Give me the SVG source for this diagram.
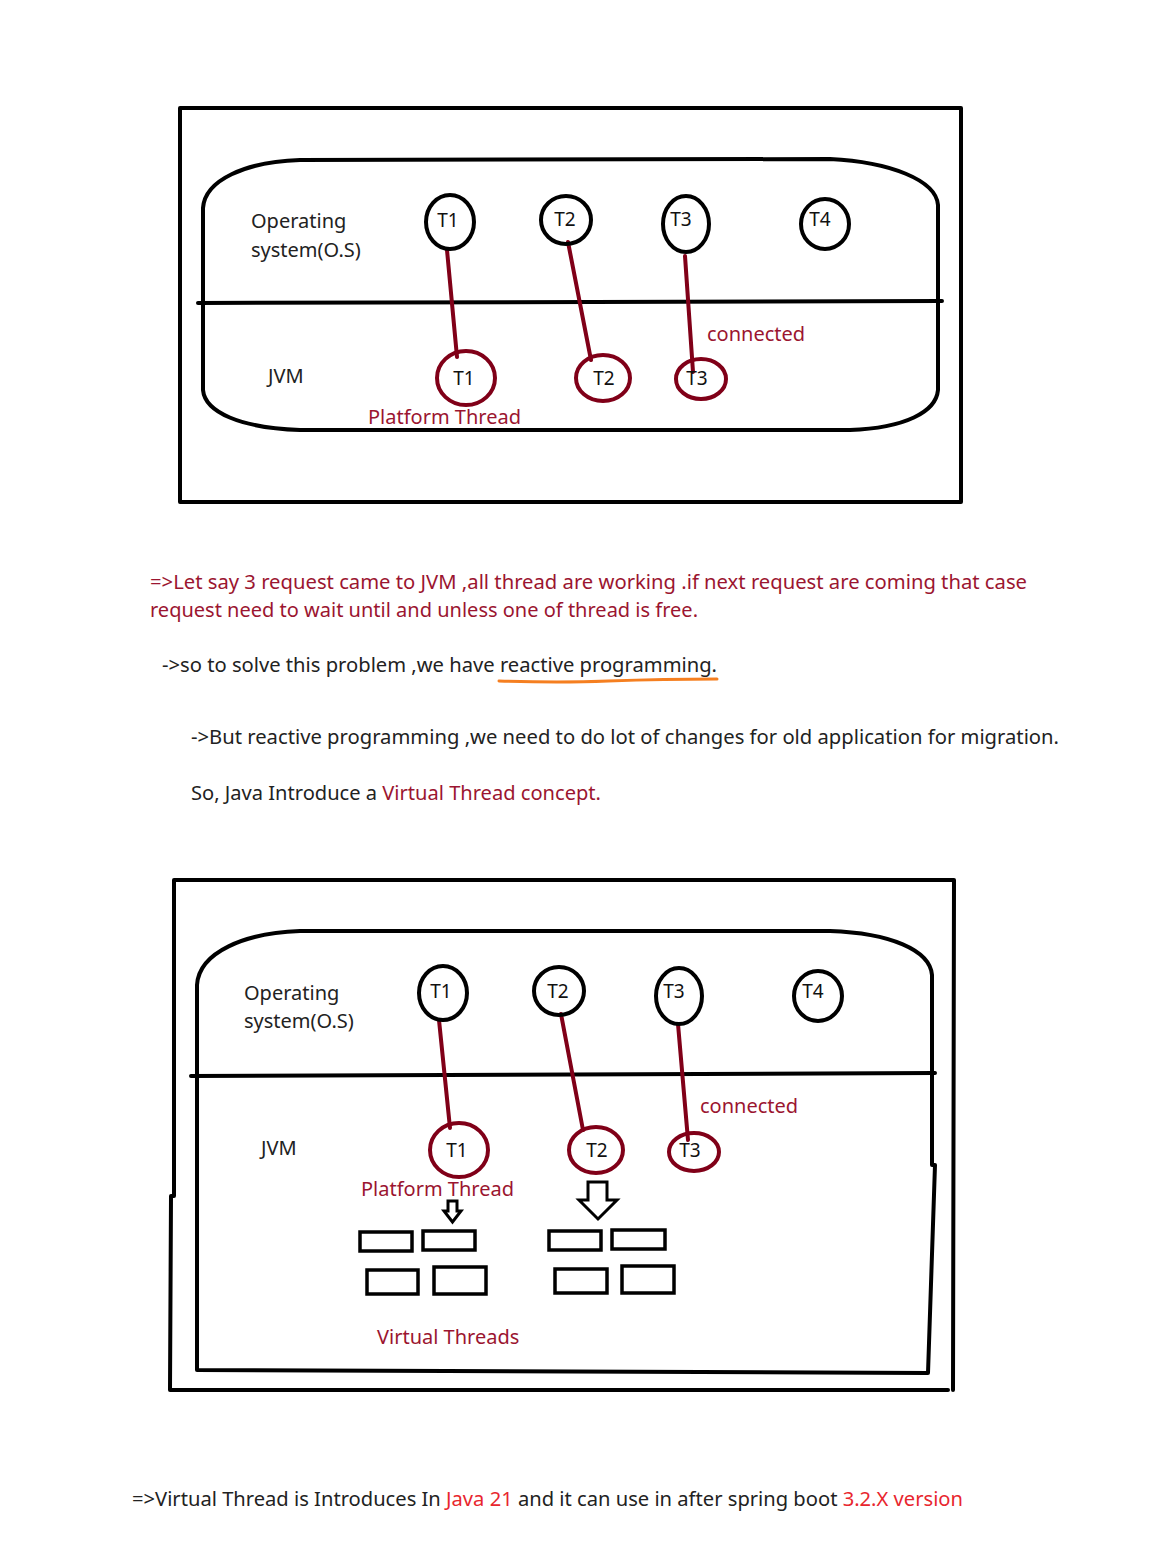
<svg xmlns="http://www.w3.org/2000/svg" width="1152" height="1563" viewBox="0 0 1152 1563">
<style>
.frame{fill:none;stroke:#000;stroke-width:4;stroke-linecap:round;stroke-linejoin:round}
.os{fill:none;stroke:#000;stroke-width:4}
.jvm{fill:none;stroke:#800018;stroke-width:4}
.link{stroke:#800018;stroke-width:4;stroke-linecap:round}
.box{fill:none;stroke:#000;stroke-width:3.5}
.arrow{fill:none;stroke:#000;stroke-width:3;stroke-linejoin:miter}
text{font-family:"Noto Sans","Open Sans","Liberation Sans",sans-serif;font-size:20px;fill:#222}
.t{font-size:19px;fill:#111}
.red{fill:#9b1530}
.bred{fill:#e8262e}
</style>
<rect x="0" y="0" width="1152" height="1563" fill="#fff"/>

<!-- Top diagram -->
<g id="top-diagram">
  <rect class="frame" x="180" y="108" width="781" height="394"/>
  <path class="frame" d="M203,390 L203,208 C205,180 245,162 300,160 L830,159 C890,162 936,180 938,205 L938,390 C936,412 905,428 850,430 L300,430 C240,428 205,412 203,390 Z"/>
  <line class="frame" x1="198" y1="303" x2="942" y2="301"/>
</g>
<g id="top-labels">
  <text x="251" y="228">Operating</text>
  <text x="251" y="257">system(O.S)</text>
  <text x="268" y="383">JVM</text>
  <text class="red" x="368" y="424">Platform Thread</text>
  <text class="red" x="707" y="341">connected</text>
</g>
<g id="top-connectors">
  <line class="link" x1="447" y1="250" x2="457" y2="357"/>
  <line class="link" x1="568" y1="242" x2="591" y2="360"/>
  <line class="link" x1="685" y1="256" x2="693" y2="372"/>
</g>
<g id="top-os-t1"><ellipse class="os" cx="450" cy="222" rx="24" ry="27"/><text class="t" x="448" y="227" text-anchor="middle">T1</text></g>
<g id="top-os-t2"><ellipse class="os" cx="566" cy="220" rx="25" ry="24"/><text class="t" x="565" y="226" text-anchor="middle">T2</text></g>
<g id="top-os-t3"><ellipse class="os" cx="686" cy="224" rx="23" ry="28"/><text class="t" x="681" y="226" text-anchor="middle">T3</text></g>
<g id="top-os-t4"><ellipse class="os" cx="825" cy="224" rx="24" ry="25"/><text class="t" x="820" y="226" text-anchor="middle">T4</text></g>
<g id="top-jvm-t1"><ellipse class="jvm" cx="466" cy="378" rx="29" ry="27"/><text class="t" x="464" y="385" text-anchor="middle">T1</text></g>
<g id="top-jvm-t2"><ellipse class="jvm" cx="603" cy="378" rx="27" ry="23"/><text class="t" x="604" y="385" text-anchor="middle">T2</text></g>
<g id="top-jvm-t3"><ellipse class="jvm" cx="701" cy="379" rx="25" ry="20"/><text class="t" x="697" y="385" text-anchor="middle">T3</text></g>

<!-- Middle text -->
<g id="notes">
  <text class="red" x="150" y="589" textLength="877" lengthAdjust="spacingAndGlyphs">=&gt;Let say 3 request came to JVM ,all thread are working .if next request are coming that case</text>
  <text class="red" x="150" y="617" textLength="548" lengthAdjust="spacingAndGlyphs">request need to wait until and unless one of thread is free.</text>
  <text x="162" y="672" textLength="555" lengthAdjust="spacingAndGlyphs">-&gt;so to solve this problem ,we have reactive programming.</text>
  <path d="M499,681 Q560,683 608,681 Q665,679 717,679" fill="none" stroke="#f57f20" stroke-width="3" stroke-linecap="round"/>
  <text x="191" y="744" textLength="868" lengthAdjust="spacingAndGlyphs">-&gt;But reactive programming ,we need to do lot of changes for old application for migration.</text>
  <text x="191" y="800" textLength="410" lengthAdjust="spacingAndGlyphs">So, Java Introduce a <tspan class="red">Virtual Thread concept.</tspan></text>
</g>

<!-- Bottom diagram -->
<g id="bottom-diagram">
  <path class="frame" d="M174,880 L954,880 L953,1390 M174,880 L174,1196 L171,1196 L170,1390 L948,1390"/>
  <path class="frame" d="M197,1370 L197,985 C199,952 245,933 300,931 L830,931 C890,933 930,950 932,975 L932,1165 L935,1165 L928,1373 L197,1370"/>
  <line class="frame" x1="191" y1="1076" x2="935" y2="1073"/>
</g>
<g id="bottom-labels">
  <text x="244" y="1000">Operating</text>
  <text x="244" y="1028">system(O.S)</text>
  <text x="261" y="1155">JVM</text>
  <text class="red" x="700" y="1113">connected</text>
  <text class="red" x="361" y="1196">Platform Thread</text>
  <text class="red" x="377" y="1344">Virtual Threads</text>
</g>
<g id="bottom-connectors">
  <line class="link" x1="439" y1="1020" x2="450" y2="1128"/>
  <line class="link" x1="561" y1="1014" x2="583" y2="1130"/>
  <line class="link" x1="678" y1="1024" x2="688" y2="1140"/>
  <path class="arrow" d="M448,1201 L457,1201 L457,1211 L461,1211 L452.5,1222 L444,1211 L448,1211 Z" stroke-width="2.5"/>
  <path class="arrow" d="M588,1182 L607,1182 L607,1200 L617,1200 L598,1219 L579,1200 L588,1200 Z"/>
</g>
<g id="bottom-os-t1"><ellipse class="os" cx="443" cy="993" rx="24" ry="27"/><text class="t" x="441" y="998" text-anchor="middle">T1</text></g>
<g id="bottom-os-t2"><ellipse class="os" cx="559" cy="991" rx="25" ry="24"/><text class="t" x="558" y="998" text-anchor="middle">T2</text></g>
<g id="bottom-os-t3"><ellipse class="os" cx="679" cy="996" rx="23" ry="28"/><text class="t" x="674" y="998" text-anchor="middle">T3</text></g>
<g id="bottom-os-t4"><ellipse class="os" cx="818" cy="996" rx="24" ry="25"/><text class="t" x="813" y="998" text-anchor="middle">T4</text></g>
<g id="bottom-jvm-t1"><ellipse class="jvm" cx="459" cy="1150" rx="29" ry="27"/><text class="t" x="457" y="1157" text-anchor="middle">T1</text></g>
<g id="bottom-jvm-t2"><ellipse class="jvm" cx="596" cy="1150" rx="27" ry="23"/><text class="t" x="597" y="1157" text-anchor="middle">T2</text></g>
<g id="bottom-jvm-t3"><ellipse class="jvm" cx="694" cy="1152" rx="25" ry="19"/><text class="t" x="690" y="1157" text-anchor="middle">T3</text></g>
<g id="virtual-threads">
  <rect class="box" x="360" y="1232" width="52" height="19"/>
  <rect class="box" x="423" y="1231" width="52" height="19"/>
  <rect class="box" x="367" y="1270" width="51" height="24"/>
  <rect class="box" x="434" y="1267" width="52" height="27"/>
  <rect class="box" x="549" y="1231" width="52" height="19"/>
  <rect class="box" x="612" y="1230" width="53" height="19"/>
  <rect class="box" x="555" y="1269" width="52" height="24"/>
  <rect class="box" x="622" y="1266" width="52" height="27"/>
</g>

<g id="footer">
  <text x="132" y="1506" textLength="831" lengthAdjust="spacingAndGlyphs">=&gt;Virtual Thread is Introduces In <tspan class="bred">Java 21</tspan> and it can use in after spring boot <tspan class="bred">3.2.X version</tspan></text>
</g>
</svg>
